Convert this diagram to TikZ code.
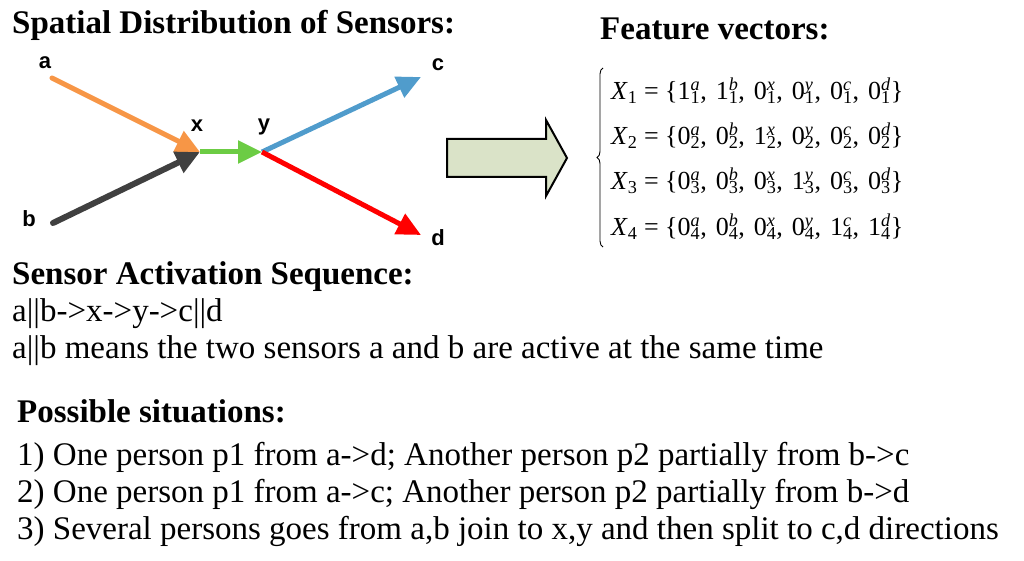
\documentclass[tikz,border=0pt]{standalone}
\usepackage{fontspec}
\newfontfamily\bodyserif{Liberation Serif}
\newfontfamily\sensorsans{Liberation Sans}
\usetikzlibrary{arrows.meta}
\usetikzlibrary{decorations.pathreplacing}
\usetikzlibrary{positioning}
\definecolor{legA}{RGB}{247,150,70}
\definecolor{legB}{RGB}{64,64,64}
\definecolor{legXY}{RGB}{108,204,68}
\definecolor{legC}{RGB}{80,156,204}
\definecolor{legD}{RGB}{255,0,0}
\definecolor{blockfill}{RGB}{218,227,200}
% one vector entry: value, sensor, time
\newcommand\ent[3]{#1\rlap{\textsuperscript{\itshape #2}}\textsubscript{#3}}
\newcommand\sep{,\kern9pt}
\tikzset{
heading/.style={ % Bold section titles
anchor=base west, inner sep=0pt,
font=\bodyserif\bfseries\fontsize{33}{40}\selectfont},
plain/.style={ % Ordinary text lines
anchor=base west, inner sep=0pt,
font=\bodyserif\fontsize{33}{40}\selectfont},
vecrow/.style={ % Rows of the feature vectors
anchor=base west, inner sep=0pt,
font=\bodyserif\fontsize{26}{30}\selectfont},
sensor/.style={ % Letters next to the sensors
inner sep=0pt,
font=\sensorsans\bfseries\fontsize{22}{22}\selectfont},
track/.style={ % Movement between two sensors
line width=5pt,
line cap=round,
-{Triangle[length=24pt,width=22pt]}}}

\begin{document}
\begin{tikzpicture}[x=1pt,y=-1pt]
	\useasboundingbox (0,0) rectangle (1024,561);
	\node[heading] (title) at (12,34) {Spatial Distribution of Sensors:};
	\coordinate (a) at (52,78);
	\coordinate (b) at (53,223);
	\coordinate (x) at (200,152);
	\coordinate (y) at (262,152);
	\coordinate (c) at (421,77);
	\coordinate (d) at (421,235);
	\node[sensor] (la) at (45,63) {a};
	\node[sensor] (lb) at (29,219) {b};
	\node[sensor] (lx) at (197,126) {x};
	\node[sensor] (ly) at (264,127) {y};
	\node[sensor] (lc) at (438,65) {c};
	\node[sensor] (ld) at (438,238) {d};
	\draw[track, legA] (a) -- (x);
	\draw[track, legB, line width=6pt] (b) -- (x);
	\draw[track, legXY, line cap=butt] (x) -- (y);
	\draw[track, legC, line cap=butt] (y) -- (c);
	\draw[track, legD, line cap=butt] (y) -- (d);
	\draw[line width=2pt, fill=blockfill] (447,139) -- (546,139) -- (546,120) -- (567,158) -- (546,196) -- (546,177) -- (447,177) -- cycle;
	\node[heading] (feat) at (600,40) {Feature vectors:};
	\draw[decorate, decoration={brace, amplitude=6pt}, line width=0.9pt] (603,247) -- (603,68);
	\node[vecrow] (v1) at (611,100) {\textit{X}\textsubscript{1} = \{\ent{1}{a}{1}\sep\ent{1}{b}{1}\sep\ent{0}{x}{1}\sep\ent{0}{y}{1}\sep\ent{0}{c}{1}\sep\ent{0}{d}{1}\}};
	\node[vecrow] (v2) at (611,145) {\textit{X}\textsubscript{2} = \{\ent{0}{a}{2}\sep\ent{0}{b}{2}\sep\ent{1}{x}{2}\sep\ent{0}{y}{2}\sep\ent{0}{c}{2}\sep\ent{0}{d}{2}\}};
	\node[vecrow] (v3) at (611,190) {\textit{X}\textsubscript{3} = \{\ent{0}{a}{3}\sep\ent{0}{b}{3}\sep\ent{0}{x}{3}\sep\ent{1}{y}{3}\sep\ent{0}{c}{3}\sep\ent{0}{d}{3}\}};
	\node[vecrow] (v4) at (611,236) {\textit{X}\textsubscript{4} = \{\ent{0}{a}{4}\sep\ent{0}{b}{4}\sep\ent{0}{x}{4}\sep\ent{0}{y}{4}\sep\ent{1}{c}{4}\sep\ent{1}{d}{4}\}};
	\node[heading] (actseq) at (12,284) {Sensor Activation Sequence:};
	\node[plain] (seq) at (12,321) {a||b->x->y->c||d};
	\node[plain] (seqnote) at (12,358) {a||b means the two sensors a and b are active at the same time};
	\node[heading] (poss) at (17,422) {Possible situations:};
	\node[plain] (sit1) at (17,465) {1) One person p1 from a->d; Another person p2 partially from b->c};
	\node[plain] (sit2) at (17,502) {2) One person p1 from a->c; Another person p2 partially from b->d};
	\node[plain] (sit3) at (17,539) {3) Several persons goes from a,b join to x,y and then split to c,d directions};
\end{tikzpicture}
\end{document}
